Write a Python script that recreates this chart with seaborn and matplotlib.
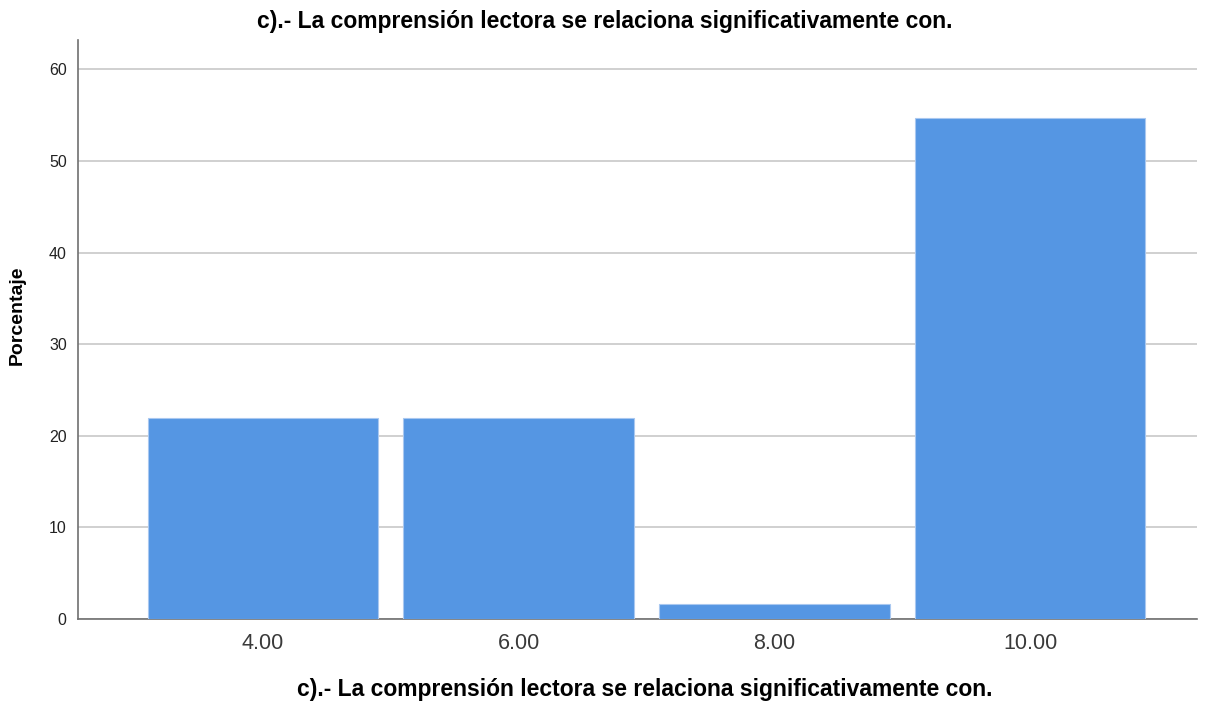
import seaborn as sns
import matplotlib.pyplot as plt
import pandas as pd

# datos
categorias = ["4.00", "6.00", "8.00", "10.00"]
porcentajes = [21.9, 21.9, 1.6, 54.7]
yticks = [0, 10, 20, 30, 40, 50, 60]
titulo = "c).- La comprensión lectora se relaciona significativamente con."

df = pd.DataFrame({"cat": categorias, "pct": porcentajes})

sns.set_style("white")
plt.rcParams['font.family'] = ['Liberation Sans', 'DejaVu Sans']

fig = plt.figure(figsize=(12.16, 7.04), dpi=100)
ax = fig.add_axes([0.064, 0.1207, 0.92, 0.8225])

sns.barplot(data=df, x="cat", y="pct", order=categorias, color="#5596E3",
            saturation=1, width=0.9, edgecolor="#a9c8f0", linewidth=0.8, ax=ax, zorder=3)

ax.set_ylim(0, 63.2)
ax.set_xlim(-0.723, 3.65)
ax.set_yticks(yticks)
ax.yaxis.grid(True, color="#c8c8c8", linewidth=1.2, zorder=0)
ax.set_axisbelow(True)

for s in ["top", "right"]:
    ax.spines[s].set_visible(False)
for s in ["left", "bottom"]:
    ax.spines[s].set_color("#707070")
    ax.spines[s].set_linewidth(1.2)

ax.tick_params(axis="y", labelsize=11.5, colors="#222222", length=0, pad=8)
ax.tick_params(axis="x", labelsize=15.5, colors="#3a3a3a", length=0, pad=10)

ax.set_xlabel(titulo, fontsize=16.5, fontweight="bold", color="black")
ax.xaxis.label.set_va("center")
ax.xaxis.set_label_coords(0.507, -0.122)

ax.set_ylabel("Porcentaje", fontsize=14, fontweight="bold", color="black")
ax.yaxis.label.set_va("center")
ax.yaxis.set_label_coords(-0.054, 0.525)

fig.suptitle(titulo, x=0.4975, y=0.969, va="center", fontsize=16.5, fontweight="bold", color="black")

fig.savefig("out.png", dpi=100)
